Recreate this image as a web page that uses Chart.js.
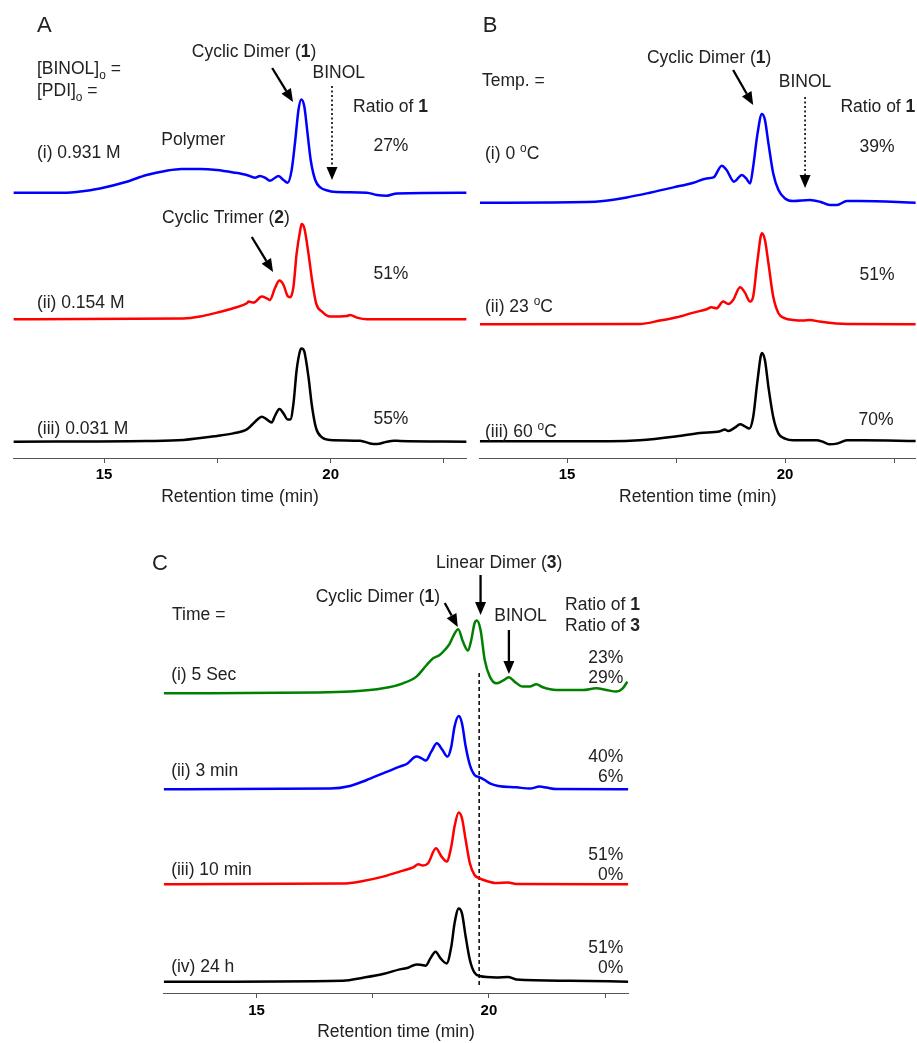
<!DOCTYPE html>
<html><head><meta charset="utf-8">
<script src="https://cdn.jsdelivr.net/npm/chart.js@4.4.0/dist/chart.umd.min.js"></script>
<style>
html,body{margin:0;padding:0;background:#fff;width:917px;height:1043px;overflow:hidden;position:relative}
canvas{position:absolute}
</style></head><body>
<canvas id="cA" width="467" height="510" style="left:0;top:0"></canvas>
<canvas id="cB" width="450" height="510" style="left:467px;top:0"></canvas>
<canvas id="cC" width="917" height="523" style="left:0;top:520px"></canvas>
<script>
// ---------- DATA ----------
// Panel A: [BINOL]o = [PDI]o series (retention time, min / detector signal)
const timeA1 = [13.0,14.18,14.43,14.91,15.50,15.94,16.38,16.71,17.12,17.49,17.85,18.15,18.33,18.44,18.55,18.66,18.85,18.96,19.05,19.14,19.22,19.29,19.35,19.42,19.49,19.56,19.66,19.77,19.95,20.06,20.80,21.02,21.24,21.46,22.86,23.0];
const sigA1  = [0,0,1,4.3,11,17.7,22,23.7,23.7,22.7,20.3,17.7,15,16.7,15,12,16.7,12.7,10,22.7,52.7,82.7,93.3,86,59.3,32.7,12.7,5.3,2,1,0,-2.3,-3,-0.7,0,0];
const timeA2 = [13.0,16.75,17.12,17.49,17.85,18.15,18.19,18.30,18.48,18.59,18.66,18.77,18.87,18.96,19.05,19.11,19.18,19.25,19.33,19.36,19.42,19.51,19.59,19.68,19.81,19.99,20.36,20.43,20.58,20.80,23.0];
const sigA2  = [0,0.7,2.7,6.7,11,16,17.7,16.7,22.7,21,19.3,31,38.7,34.3,23.3,22,32.7,66,89.3,95.3,91,66,39.3,16,7.7,2.7,3.3,4.3,1.7,0,0];
const timeA3 = [13.0,15.94,16.75,17.49,17.85,18.15,18.26,18.41,18.48,18.59,18.70,18.77,18.87,18.96,19.05,19.11,19.18,19.25,19.33,19.36,19.42,19.51,19.59,19.68,19.81,19.99,20.65,20.87,21.02,21.24,21.39,21.53,23.0];
const sigA3  = [0,0.7,1.7,5.7,8.3,12.3,16.7,23.3,25,22.3,19.3,25.7,32.7,28.3,22.3,22.3,38.3,71.7,91.7,93.3,90,65,35,13.3,4.3,1.7,1,-1.7,-2.3,0,1,0.7,0];
const labelsA = ['(i) 0.931 M','(ii) 0.154 M','(iii) 0.031 M'];
const ratioA  = ['27%','51%','55%'];

// Panel B: temperature series
const timeB1 = [13.0,15.45,15.83,16.37,16.90,17.44,17.90,18.20,18.36,18.55,18.66,18.83,19.01,19.11,19.20,19.27,19.37,19.47,19.54,19.62,19.73,19.85,20.00,20.19,20.57,20.80,21.03,21.19,21.42,21.72,23.0];
const sigB1  = [0,0.7,1.7,5.3,10,15.3,20,24.3,25.3,37,32.7,21,27.7,24.3,19.3,36,69.3,88.7,82.7,59.3,29.3,12.7,4.3,1.7,2.7,1,-2.3,-2.3,1.7,1.7,0];
const timeB2 = [13.0,16.67,17.13,17.52,17.90,18.20,18.31,18.43,18.58,18.70,18.81,18.97,19.08,19.20,19.27,19.37,19.47,19.54,19.62,19.73,19.85,20.00,20.19,20.42,20.57,20.80,21.42,23.0];
const sigB2  = [0,0.3,3.7,7,11.7,15,17,16,22.7,20.3,24.3,37,31.7,22.7,27.7,64.3,91,84.3,61,27.7,11,6,4.3,3.7,4.3,2.7,0.3,0];
const timeB3 = [13.0,15.99,16.67,17.52,18.05,18.51,18.62,18.70,18.85,18.97,19.08,19.18,19.27,19.37,19.47,19.54,19.62,19.73,19.85,20.00,20.19,20.73,20.88,21.03,21.19,21.42,21.80,23.0];
const sigB3  = [0,0,1,5,8.3,10,11.7,10.3,13.7,17,15,12.7,24.3,61,88.3,81,54.3,24.3,7.7,2.7,1,1,-0.7,-3,-2.3,1,1,0.3];
const ratioB = ['39%','51%','70%'];

// Panel C: time series
const timeC1 = [13.0,16.29,17.01,17.72,18.15,18.44,18.66,18.80,18.94,19.05,19.16,19.23,19.34,19.44,19.55,19.62,19.69,19.74,19.82,19.91,20.02,20.16,20.30,20.43,20.55,20.73,20.88,21.02,21.16,21.45,22.02,22.31,22.53,22.74,22.88,22.98];
const sigC1  = [0,0.7,1.7,5,10,16.7,28.3,35,38.3,43.3,50,57,64,51.7,42.7,53.3,70,72.7,63.3,33.3,16.7,10,12.7,16,11.7,6.7,6.7,9,6,3.3,3.3,5,3.3,1.7,5,11.7];
const timeC2 = [13.0,16.58,17.01,17.37,17.72,18.08,18.23,18.44,18.55,18.64,18.76,18.88,19.00,19.11,19.19,19.26,19.35,19.42,19.50,19.59,19.69,19.80,19.91,20.02,20.20,20.59,20.88,21.09,21.24,21.45,23.0];
const sigC2  = [0,0.7,3.3,9.3,16,22.7,25.3,32.7,31,28.7,37.7,46,39.3,32.7,42.7,62.7,73.3,66,42.7,24.3,14.3,12,9.3,6,3.3,2,0.7,2.7,1.7,0.3,0];
const timeC3 = [13.0,16.86,17.29,17.72,18.15,18.37,18.48,18.58,18.69,18.86,18.98,19.09,19.19,19.26,19.35,19.42,19.50,19.59,19.69,19.80,19.95,20.16,20.41,20.59,23.0];
const sigC3  = [0,0.7,3.3,7.7,13.7,17,20,18.7,21,36,27.7,22.7,37.7,57.7,71.7,66,44.3,21,9.3,6,3.3,1.3,1.7,0.3,0];
const timeC4 = [13.0,16.86,17.29,17.72,18.08,18.26,18.44,18.55,18.64,18.74,18.85,18.96,19.09,19.19,19.26,19.35,19.42,19.50,19.59,19.69,19.80,20.16,20.41,20.59,21.74,23.0];
const sigC4  = [0,1,4,7.7,12.3,14,17.3,16.7,16,23.3,30,23.3,18.3,35,58.3,73.3,68.3,45,21.7,9,5.7,4.3,4.7,2.3,1,0];
const labelsC = ['(i) 5 Sec','(ii) 3 min','(iii) 10 min','(iv) 24 h'];
const ratio1C = ['23%','40%','51%','51%'];
const ratio3C = ['29%','6%','0%','0%'];
const linearDimerTime = 19.79;   // dashed reference line (min)

// axis ticks
const tickValues = [15, 17.5, 20, 22.5];
const tickLabeled = [15, 20];

// ---------- STYLE ----------
const FF = "'Liberation Sans', Arial, Helvetica, sans-serif";
const FS = 17.5;
const TXT = '#222';
const BLUE = '#0000ff', RED = '#ff0000', BLACK = '#000000', GREEN = '#008000';

function fontFor(s, size) {
  if (s === 'b') return `bold ${size}px ${FF}`;
  if (s === 'sub' || s === 'sup') return `${(size * 0.68).toFixed(1)}px ${FF}`;
  return `${size}px ${FF}`;
}
function drawRich(ctx, segs, x, y, align, size) {
  let w = 0;
  for (const [t, s] of segs) { ctx.font = fontFor(s, size); w += ctx.measureText(t).width; }
  let cx = align === 'center' ? x - w / 2 : align === 'right' ? x - w : x;
  ctx.textBaseline = 'middle'; ctx.textAlign = 'left';
  for (const [t, s] of segs) {
    ctx.font = fontFor(s, size);
    const dy = s === 'sub' ? size * 0.36 : s === 'sup' ? -size * 0.28 : 0;
    ctx.fillText(t, cx, y + dy);
    cx += ctx.measureText(t).width;
  }
}
function drawArrow(ctx, x1, y1, x2, y2, dotted) {
  const ang = Math.atan2(y2 - y1, x2 - x1), hl = 13, hw = 5.5;
  const bx = x2 - hl * Math.cos(ang), by = y2 - hl * Math.sin(ang);
  ctx.save();
  ctx.strokeStyle = '#000'; ctx.fillStyle = '#000';
  ctx.lineWidth = dotted ? 1.6 : 2.3;
  if (dotted) ctx.setLineDash([2, 2.5]);
  ctx.beginPath(); ctx.moveTo(x1, y1); ctx.lineTo(bx, by); ctx.stroke();
  ctx.setLineDash([]);
  ctx.beginPath(); ctx.moveTo(x2, y2);
  ctx.lineTo(bx - hw * Math.sin(ang), by + hw * Math.cos(ang));
  ctx.lineTo(bx + hw * Math.sin(ang), by - hw * Math.cos(ang));
  ctx.closePath(); ctx.fill();
  ctx.restore();
}
const annotPlugin = {
  id: 'annot',
  afterDraw(chart, args, opts) {
    const ctx = chart.ctx, xs = chart.scales.x, ys = chart.scales.y;
    const X = t => xs.getPixelForValue(t), Y = v => ys.getPixelForValue(v);
    ctx.save();
    ctx.fillStyle = TXT;
    (opts.texts || []).forEach(o => drawRich(ctx, o.segs, X(o.t), Y(o.v), o.align || 'left', o.size || FS));
    (opts.arrows || []).forEach(a => drawArrow(ctx, X(a.t1), Y(a.v1), X(a.t2), Y(a.v2), a.dotted));
    ctx.restore();
  }
};

function makeChart(id, p) {
  const datasets = p.traces.map(tr => ({
    data: tr.t.map((t, i) => ({ x: t, y: tr.v[i] + tr.off })),
    borderColor: tr.color, borderWidth: tr.width || 2.5, borderDash: tr.dash || [],
    pointRadius: 0, fill: false, cubicInterpolationMode: tr.dash ? 'default' : 'monotone', tension: 0,
    order: tr.order || 0
  }));
  return new Chart(document.getElementById(id), {
    type: 'line',
    data: { datasets },
    options: {
      responsive: false, animation: false, devicePixelRatio: 1,
      layout: { padding: { left: p.padL, right: p.padR, top: 0, bottom: 0 } },
      plugins: { legend: { display: false }, tooltip: { enabled: false }, annot: { texts: p.texts, arrows: p.arrows } },
      scales: {
        x: {
          type: 'linear', min: 13, max: 23, position: 'bottom',
          afterBuildTicks: ax => { ax.ticks = tickValues.map(v => ({ value: v })); },
          afterFit: ax => { ax.height = p.axisH; },
          ticks: {
            callback: v => tickLabeled.includes(v) ? String(v) : '',
            font: { family: FF, size: 15, weight: 'bold' }, color: '#000',
            padding: p.tickPad, maxRotation: 0, autoSkip: false
          },
          grid: { drawOnChartArea: false, drawTicks: true, tickLength: 5, color: '#555', tickColor: '#555' },
          border: { display: true, color: '#555', width: 1 },
          title: { display: true, text: 'Retention time (min)', font: { family: FF, size: FS }, color: TXT, padding: { top: 0, bottom: p.titlePad } }
        },
        y: { type: 'linear', display: false, min: p.yMin, max: p.yMax }
      }
    },
    plugins: [annotPlugin]
  });
}

const dimer = [['Cyclic Dimer (', 'n'], ['1', 'b'], [')', 'n']];
const ratio1 = [['Ratio of ', 'n'], ['1', 'b']];

// ---------- PANEL A ----------
makeChart('cA', {
  padL: 13.4, padR: 0.4, axisH: 52, tickPad: 2.5, titlePad: 2, yMin: -16.3, yMax: 441.7,
  traces: [
    { t: timeA1, v: sigA1, off: 249, color: BLUE },
    { t: timeA2, v: sigA2, off: 122.4, color: RED },
    { t: timeA3, v: sigA3, off: 0, color: BLACK }
  ],
  texts: [
    { t: 13.52, v: 415.7, segs: [['A', 'n']], size: 22 },
    { t: 13.52, v: 372.7, segs: [['[BINOL]', 'n'], ['o', 'sub'], [' =', 'n']] },
    { t: 13.52, v: 350.7, segs: [['[PDI]', 'n'], ['o', 'sub'], [' =', 'n']] },
    { t: 18.31, v: 389.7, segs: dimer, align: 'center' },
    { t: 20.18, v: 368.7, segs: [['BINOL', 'n']], align: 'center' },
    { t: 21.32, v: 334.7, segs: ratio1, align: 'center' },
    { t: 16.97, v: 301.7, segs: [['Polymer', 'n']], align: 'center' },
    { t: 13.52, v: 288.7, segs: [[labelsA[0], 'n']] },
    { t: 21.33, v: 295.7, segs: [[ratioA[0], 'n']], align: 'center' },
    { t: 17.69, v: 223.7, segs: [['Cyclic Trimer (', 'n'], ['2', 'b'], [')', 'n']], align: 'center' },
    { t: 21.33, v: 167.7, segs: [[ratioA[1], 'n']], align: 'center' },
    { t: 13.52, v: 138.7, segs: [[labelsA[1], 'n']] },
    { t: 21.33, v: 22.7, segs: [[ratioA[2], 'n']], align: 'center' },
    { t: 13.52, v: 12.7, segs: [[labelsA[2], 'n']] }
  ],
  arrows: [
    { t1: 18.71, v1: 373.7, t2: 19.17, v2: 339.7 },
    { t1: 20.03, v1: 355.7, t2: 20.03, v2: 261.7, dotted: true },
    { t1: 18.26, v1: 204.7, t2: 18.73, v2: 169.7 }
  ]
});

// ---------- PANEL B ----------
makeChart('cB', {
  padL: 12.8, padR: 1.2, axisH: 52, tickPad: 2.5, titlePad: 2, yMin: -16.7, yMax: 441.3,
  traces: [
    { t: timeB1, v: sigB1, off: 238.6, color: BLUE },
    { t: timeB2, v: sigB2, off: 117, color: RED },
    { t: timeB3, v: sigB3, off: 0, color: BLACK }
  ],
  texts: [
    { t: 13.07, v: 415.3, segs: [['B', 'n']], size: 22 },
    { t: 13.05, v: 360.3, segs: [['Temp. =', 'n']] },
    { t: 18.26, v: 383.3, segs: dimer, align: 'center' },
    { t: 20.46, v: 359.3, segs: [['BINOL', 'n']], align: 'center' },
    { t: 22.13, v: 334.3, segs: ratio1, align: 'center' },
    { t: 13.12, v: 287.3, segs: [['(i) 0 ', 'n'], ['o', 'sup'], ['C', 'n']] },
    { t: 22.11, v: 294.3, segs: [[ratioB[0], 'n']], align: 'center' },
    { t: 22.11, v: 166.3, segs: [[ratioB[1], 'n']], align: 'center' },
    { t: 13.12, v: 134.3, segs: [['(ii) 23 ', 'n'], ['o', 'sup'], ['C', 'n']] },
    { t: 22.09, v: 21.3, segs: [[ratioB[2], 'n']], align: 'center' },
    { t: 13.12, v: 9.3, segs: [['(iii) 60 ', 'n'], ['o', 'sup'], ['C', 'n']] }
  ],
  arrows: [
    { t1: 18.81, v1: 371.3, t2: 19.27, v2: 336.3 },
    { t1: 20.46, v1: 344.3, t2: 20.46, v2: 253.3, dotted: true }
  ]
});

// ---------- PANEL C ----------
const ratio3 = [['Ratio of ', 'n'], ['3', 'b']];
makeChart('cC', {
  padL: 163.7, padR: 288.7, axisH: 50, tickPad: 3.5, titlePad: 0, yMin: -11.3, yMax: 461.7,
  traces: [
    { t: [linearDimerTime, linearDimerTime], v: [-3.3, 311.7], off: 0, color: '#000', width: 1.5, dash: [4, 3], order: 1 },
    { t: timeC1, v: sigC1, off: 288.4, color: GREEN },
    { t: timeC2, v: sigC2, off: 192.4, color: BLUE },
    { t: timeC3, v: sigC3, off: 97.4, color: RED },
    { t: timeC4, v: sigC4, off: 0, color: BLACK }
  ],
  texts: [
    { t: 12.75, v: 417.7, segs: [['C', 'n']], size: 22 },
    { t: 20.22, v: 418.7, segs: [['Linear Dimer (', 'n'], ['3', 'b'], [')', 'n']], align: 'center' },
    { t: 17.61, v: 384.7, segs: dimer, align: 'center' },
    { t: 13.18, v: 366.7, segs: [['Time =', 'n']] },
    { t: 20.68, v: 365.7, segs: [['BINOL', 'n']], align: 'center' },
    { t: 21.64, v: 376.7, segs: ratio1 },
    { t: 21.64, v: 355.7, segs: ratio3 },
    { t: 22.89, v: 323.7, segs: [[ratio1C[0], 'n']], align: 'right' },
    { t: 22.89, v: 303.7, segs: [[ratio3C[0], 'n']], align: 'right' },
    { t: 13.16, v: 306.7, segs: [[labelsC[0], 'n']] },
    { t: 22.89, v: 224.7, segs: [[ratio1C[1], 'n']], align: 'right' },
    { t: 22.89, v: 204.7, segs: [[ratio3C[1], 'n']], align: 'right' },
    { t: 13.16, v: 210.7, segs: [[labelsC[1], 'n']] },
    { t: 22.89, v: 126.7, segs: [[ratio1C[2], 'n']], align: 'right' },
    { t: 22.89, v: 106.7, segs: [[ratio3C[2], 'n']], align: 'right' },
    { t: 13.16, v: 111.7, segs: [[labelsC[2], 'n']] },
    { t: 22.89, v: 33.7, segs: [[ratio1C[3], 'n']], align: 'right' },
    { t: 22.89, v: 13.7, segs: [[ratio3C[3], 'n']], align: 'right' },
    { t: 13.16, v: 14.7, segs: [[labelsC[3], 'n']] }
  ],
  arrows: [
    { t1: 19.82, v1: 406.7, t2: 19.82, v2: 366.7 },
    { t1: 19.05, v1: 378.7, t2: 19.33, v2: 354.7 },
    { t1: 20.43, v1: 351.7, t2: 20.43, v2: 307.7 }
  ]
});
</script>
</body></html>
